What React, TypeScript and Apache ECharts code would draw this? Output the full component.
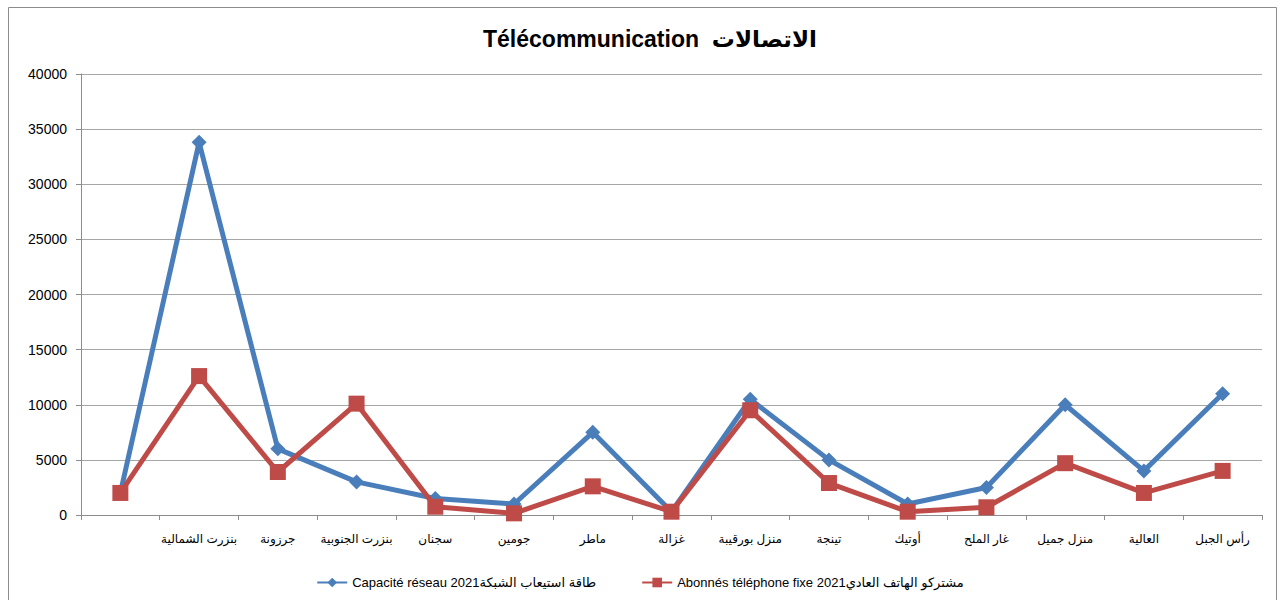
import React, { useEffect, useRef } from "react";
import * as echarts from "echarts";

// Délégations (first slot has no label)
const categories = [
  "",
  "بنزرت الشمالية",
  "جرزونة",
  "بنزرت الجنوبية",
  "سجنان",
  "جومين",
  "ماطر",
  "غزالة",
  "منزل بورقيبة",
  "تينجة",
  "أوتيك",
  "غار الملح",
  "منزل جميل",
  "العالية",
  "رأس الجبل",
];

const capaciteReseau = [2000, 33800, 6000, 3000, 1500, 1000, 7500, 300, 10500, 5000, 1000, 2500, 10000, 4000, 11000];
const abonnesFixe = [2000, 12600, 3900, 10100, 750, 150, 2600, 300, 9500, 2900, 300, 700, 4700, 2000, 4000];

const seriesNames = [
  "Capacité réseau 2021طاقة استيعاب الشبكة",
  "Abonnés téléphone fixe 2021مشتركو الهاتف العادي",
];

const titleText = "Télécommunication  الاتصالات";

const yTicks = { min: 0, max: 40000, interval: 5000 };

const FONT = "Arial, 'Liberation Sans', 'DejaVu Sans', sans-serif";

export default function App() {
  const ref = useRef<HTMLDivElement>(null);

  useEffect(() => {
    if (!ref.current) return;
    const chart = echarts.init(ref.current, undefined, { renderer: "svg" });
    chart.setOption({
      animation: false,
      backgroundColor: "#ffffff",
      textStyle: { fontFamily: FONT },
      title: {
        text: titleText,
        left: 645,
        textAlign: "center",
        top: 22,
        textStyle: { fontSize: 23, fontWeight: "bold", color: "#000", fontFamily: FONT },
      },
      graphic: [
        {
          type: "rect",
          shape: { x: 8.5, y: 7.5, width: 1268, height: 620 },
          style: { fill: "none", stroke: "#8c8c8c", lineWidth: 1 },
          silent: true,
        },
      ],
      legend: {
        left: "center",
        top: 571,
        itemGap: 45,
        itemWidth: 30,
        itemHeight: 12,
        textStyle: { fontSize: 13, color: "#000", fontFamily: FONT },
        data: seriesNames,
      },
      grid: { left: 81, right: 18, top: 74, bottom: 85, containLabel: false },
      xAxis: {
        type: "category",
        data: categories,
        boundaryGap: true,
        axisLine: { lineStyle: { color: "#8c8c8c", width: 1 } },
        axisTick: { show: true, length: 5, alignWithLabel: false, lineStyle: { color: "#8c8c8c" } },
        axisLabel: { color: "#000", fontSize: 12, margin: 18, interval: 0, fontFamily: FONT },
      },
      yAxis: {
        type: "value",
        min: yTicks.min,
        max: yTicks.max,
        interval: yTicks.interval,
        axisLine: { show: true, lineStyle: { color: "#8c8c8c", width: 1 } },
        axisTick: { show: true, length: 5, lineStyle: { color: "#8c8c8c" } },
        axisLabel: {
          color: "#000",
          fontSize: 14,
          margin: 14,
          fontFamily: FONT,
          formatter: (v: number) => String(v),
        },
        splitLine: { show: true, lineStyle: { color: "#a6a6a6", width: 1 } },
      },
      series: [
        {
          name: seriesNames[0],
          type: "line",
          data: capaciteReseau,
          color: "#4a7ebb",
          lineStyle: { width: 5, color: "#4a7ebb" },
          symbol: "diamond",
          symbolSize: 15,
          itemStyle: { color: "#4a7ebb" },
          z: 2,
        },
        {
          name: seriesNames[1],
          type: "line",
          data: abonnesFixe,
          color: "#be4b48",
          lineStyle: { width: 5, color: "#be4b48" },
          symbol: "rect",
          symbolSize: 16,
          itemStyle: { color: "#be4b48" },
          z: 3,
        },
      ],
    });
    return () => chart.dispose();
  }, []);

  return (
    <div
      ref={ref}
      style={{ position: "fixed", left: 0, top: 0, width: 1280, height: 600 }}
    />
  );
}
